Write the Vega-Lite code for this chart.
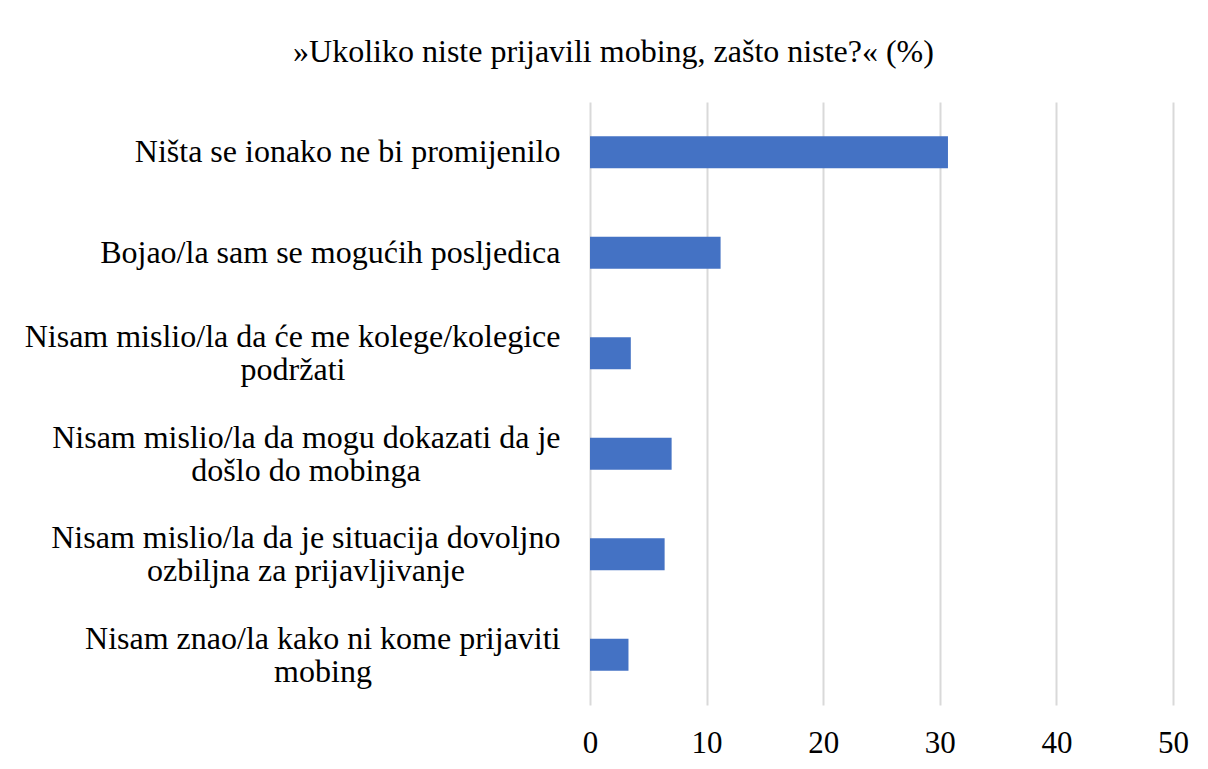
{
  "$schema": "https://vega.github.io/schema/vega-lite/v6.json",
  "autosize": "none",
  "padding": {"left": 590, "top": 102, "right": 35, "bottom": 64},
  "width": 583,
  "height": 603,
  "background": "white",
  "config": {
    "view": {"stroke": null},
    "font": "Liberation Serif",
    "text": {"font": "Liberation Serif", "fontSize": 32, "color": "#000000", "align": "center", "baseline": "middle", "dy": 17}
  },
  "title": {
    "text": "»Ukoliko niste prijavili mobing, zašto niste?« (%)",
    "font": "Liberation Serif",
    "fontSize": 32,
    "fontWeight": "normal",
    "color": "#000000",
    "anchor": "middle",
    "frame": "group",
    "dx": -268,
    "offset": 33
  },
  "data": {
    "values": [
      {"category": "Ništa se ionako ne bi promijenilo", "line2": "", "value": 30.7},
      {"category": "Bojao/la sam se mogućih posljedica", "line2": "", "value": 11.2},
      {"category": "Nisam mislio/la da će me kolege/kolegice|podržati", "line2": "podržati", "value": 3.5},
      {"category": "Nisam mislio/la da mogu dokazati da je|došlo do mobinga", "line2": "došlo do mobinga", "value": 7.0},
      {"category": "Nisam mislio/la da je situacija dovoljno|ozbiljna za prijavljivanje", "line2": "ozbiljna za prijavljivanje", "value": 6.4},
      {"category": "Nisam znao/la kako ni kome prijaviti|mobing", "line2": "mobing", "value": 3.3}
    ]
  },
  "encoding": {
    "y": {
      "field": "category",
      "type": "nominal",
      "sort": null,
      "scale": {"paddingInner": 0.68, "paddingOuter": 0.34},
      "axis": {
        "title": null,
        "domain": false,
        "ticks": false,
        "labelFont": "Liberation Serif",
        "labelFontSize": 32,
        "labelColor": "#000000",
        "labelPadding": 30,
        "labelLimit": 700,
        "labelExpr": "split(datum.value, '|')[0]",
        "labelOffset": {"condition": {"test": "indexof(datum.value, '|') >= 0", "value": -16}, "value": 0}
      }
    }
  },
  "layer": [
    {
      "mark": {"type": "bar", "color": "#4472C4"},
      "encoding": {
        "x": {
          "field": "value",
          "type": "quantitative",
          "scale": {"domain": [0, 50], "nice": false},
          "axis": {
            "title": null,
            "values": [0, 10, 20, 30, 40, 50],
            "domain": false,
            "ticks": false,
            "grid": true,
            "gridColor": "#d9d9d9",
            "gridWidth": 2,
            "labelFlush": false,
            "labelFont": "Liberation Serif",
            "labelFontSize": 31,
            "labelColor": "#000000",
            "labelPadding": 23
          }
        }
      }
    },
    {
      "transform": [{"filter": "datum.line2 == 'podržati'"}],
      "mark": {"type": "text", "dx": -297},
      "encoding": {
        "x": {"datum": 0, "type": "quantitative"},
        "text": {"field": "line2", "type": "nominal"}
      }
    },
    {
      "transform": [{"filter": "datum.line2 == 'došlo do mobinga' || datum.line2 == 'ozbiljna za prijavljivanje'"}],
      "mark": {"type": "text", "dx": -284},
      "encoding": {
        "x": {"datum": 0, "type": "quantitative"},
        "text": {"field": "line2", "type": "nominal"}
      }
    },
    {
      "transform": [{"filter": "datum.line2 == 'mobing'"}],
      "mark": {"type": "text", "dx": -267},
      "encoding": {
        "x": {"datum": 0, "type": "quantitative"},
        "text": {"field": "line2", "type": "nominal"}
      }
    }
  ]
}
